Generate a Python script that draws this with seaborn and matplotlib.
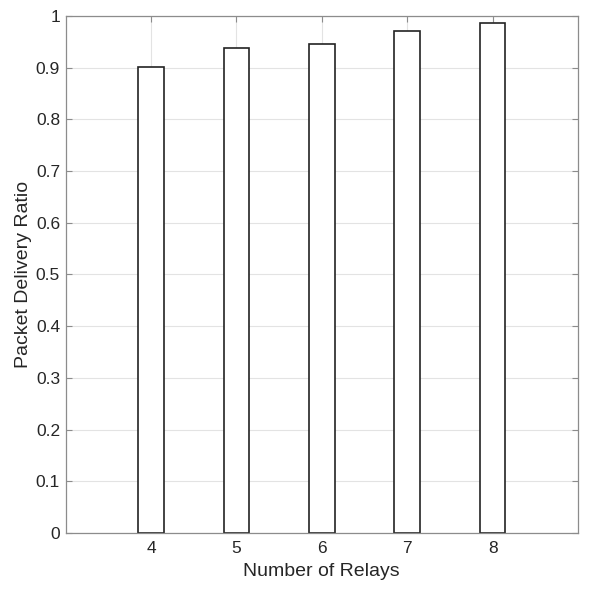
import matplotlib
matplotlib.use("Agg")
import matplotlib.pyplot as plt
import seaborn as sns
import pandas as pd
import numpy as np

relays = [4, 5, 6, 7, 8]
pdr = [0.902, 0.938, 0.945, 0.970, 0.986]
yticks = [0, 0.1, 0.2, 0.3, 0.4, 0.5, 0.6, 0.7, 0.8, 0.9, 1]
ytick_labels = ["0", "0.1", "0.2", "0.3", "0.4", "0.5", "0.6", "0.7", "0.8", "0.9", "1"]

sns.set_style("whitegrid")
plt.rcParams['font.family'] = ['Liberation Sans', 'DejaVu Sans']

df = pd.DataFrame({"relays": relays, "pdr": pdr})

fig = plt.figure(figsize=(5.91, 5.90), dpi=100)
ax = fig.add_axes([0.111, 0.0966, 0.867, 0.8764])

sns.barplot(data=df, x="relays", y="pdr", native_scale=True, width=0.3,
            color="white", edgecolor="#222222", linewidth=1.2, ax=ax,
            saturation=1)

ax.set_xlim(3, 9)
ax.set_ylim(0, 1)
ax.set_xticks(relays)
ax.set_xticklabels([str(r) for r in relays])
ax.set_yticks(yticks)
ax.set_yticklabels(ytick_labels)

ax.grid(True, color="#e3e3e3", linewidth=0.8)
ax.set_axisbelow(True)
for s in ax.spines.values():
    s.set_visible(True)
    s.set_color("#8c8c8c")
    s.set_linewidth(0.9)

ax.tick_params(axis="both", direction="in", length=4, width=0.8, color="#8c8c8c",
               labelsize=12.5, labelcolor="#262626", top=True, right=True,
               bottom=True, left=True)
ax.tick_params(axis="x", pad=6)
ax.tick_params(axis="y", pad=4)

ax.set_xlabel("Number of Relays", fontsize=14, color="#262626", labelpad=4.5)
ax.set_ylabel("Packet Delivery Ratio", fontsize=14, color="#262626", labelpad=2.5)

fig.savefig("out.png", dpi=100)
